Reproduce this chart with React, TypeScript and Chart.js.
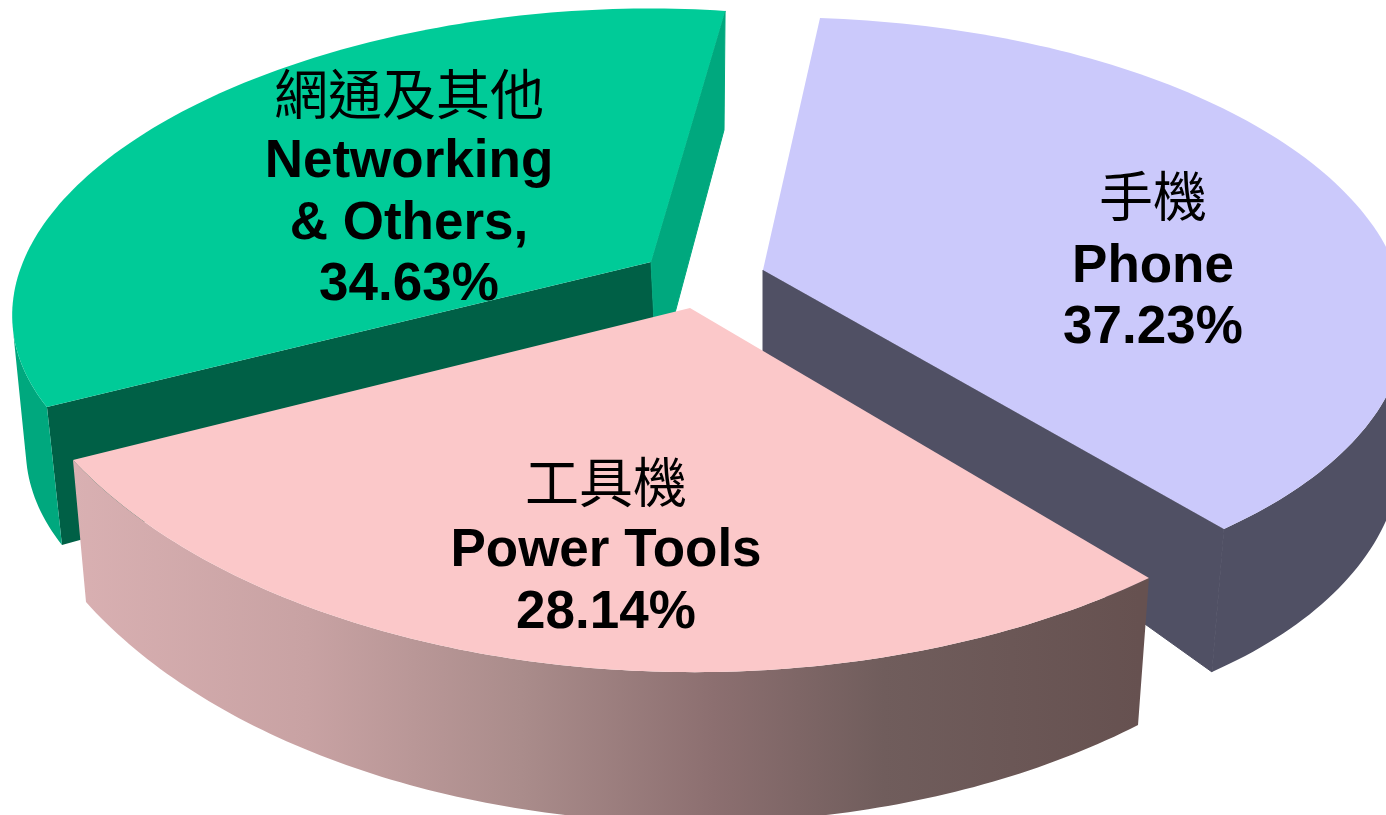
import React, { useEffect, useRef } from "react";
import { Chart, registerables } from "chart.js";

Chart.register(...registerables);

// ---- data ----
const categories = ["Phone", "Power Tools", "Networking & Others"];
const shares = [37.23, 28.14, 34.63];
const labelLines = [
  ["手機", "Phone", "37.23%"],
  ["工具機", "Power Tools", "28.14%"],
  ["網通及其他", "Networking", "& Others,", "34.63%"],
];

// ---- colours ----
const topColors = ["#cbc9fb", "#fbc8c9", "#00cb98"];
const wallColors = ["#505064", "", "#00a87e"];
const startFaceColors = ["", "", "#006046"];
const endFaceColors = ["#505064", "", "#00a87e"];
const powerWallStops: [number, string][] = [
  [0, "#d9b0b2"],
  [0.22, "#c8a2a3"],
  [0.42, "#aa8c8b"],
  [0.6, "#8c6f70"],
  [0.76, "#705d5c"],
  [1, "#665150"],
];

// ---- 3D look: each exploded wedge has its own affine view of the unit pie ----
// [a, b, c, d, e, f] as in canvas transforms, then the wedge's projected hub.
const topViews = [
  [601.4, -15.9, 55.9, 293.2, 802.2, 311],
  [709.5, -6, 4.4, 405.9, 699.3, 266.2],
  [564.9, 3.3, -74.8, 274.2, 582, 282.7],
];
const bottomViews = [
  [607.5, 16.2, 47.4, 330.9, 793, 404.5],
  [692.1, -5.9, 12, 421.3, 693.4, 401.2],
  [558.2, -2, -68.4, 283.5, 588.1, 411.6],
];
const topHubs = [[763, 270], [690, 308], [651, 262]];
const bottomHubs = [[763, 351], [695, 440], [657, 380]];
const drawOrder = [2, 0, 1];
const labelCenters = [1153, 606, 409];
const labelBaselines = [
  [217, 282, 343],
  [503, 566, 628],
  [115, 177, 239, 300],
];
const STEPS = 120;

type Pt = [number, number];

function arcPoints(view: number[], start: number, end: number): Pt[] {
  const [a, b, c, d, e, f] = view;
  const pts: Pt[] = [];
  for (let i = 0; i <= STEPS; i++) {
    const t = start + ((end - start) * i) / STEPS;
    const u = Math.cos(t);
    const v = Math.sin(t);
    pts.push([a * u + c * v + e, b * u + d * v + f]);
  }
  return pts;
}

function tracePoly(ctx: CanvasRenderingContext2D, pts: number[][]) {
  pts.forEach((p, i) => (i ? ctx.lineTo(p[0], p[1]) : ctx.moveTo(p[0], p[1])));
  ctx.closePath();
}

function fillPoly(ctx: CanvasRenderingContext2D, pts: number[][], fill: any, seal = false) {
  if (!fill) return;
  ctx.beginPath();
  tracePoly(ctx, pts);
  ctx.fillStyle = fill;
  ctx.fill();
  if (seal) {
    ctx.strokeStyle = fill;
    ctx.lineWidth = 1;
    ctx.stroke();
  }
}

function signedArea(pts: number[][]) {
  let sum = 0;
  pts.forEach((p, i) => {
    const q = pts[(i + 1) % pts.length];
    sum += p[0] * q[1] - q[0] * p[1];
  });
  return sum / 2;
}

const piePerspective = {
  id: "piePerspective",
  beforeDatasetsDraw(chart: any) {
    const ctx: CanvasRenderingContext2D = chart.ctx;
    const arcs = chart.getDatasetMeta(0).data;
    const wallGradient = ctx.createLinearGradient(73, 0, 1140, 0);
    powerWallStops.forEach(([o, c]) => wallGradient.addColorStop(o, c));
    ctx.save();
    drawOrder.forEach((i) => {
      const { startAngle, endAngle } = arcs[i].getProps(["startAngle", "endAngle"], true);
      const top = arcPoints(topViews[i], startAngle, endAngle);
      const bottom = arcPoints(bottomViews[i], startAngle, endAngle);
      fillPoly(ctx, [topHubs[i], top[0], bottom[0], bottomHubs[i]], startFaceColors[i]);
      fillPoly(ctx, [topHubs[i], top[STEPS], bottom[STEPS], bottomHubs[i]], endFaceColors[i], true);
      // only the wall strips that face the viewer
      ctx.beginPath();
      for (let s = 0; s < STEPS; s++) {
        const quad = [top[s], top[s + 1], bottom[s + 1], bottom[s]];
        if (signedArea(quad) < 0) tracePoly(ctx, quad);
      }
      ctx.fillStyle = (wallColors[i] || wallGradient) as any;
      ctx.fill();
      fillPoly(ctx, [topHubs[i], ...top], arcs[i].options.backgroundColor);
    });
    ctx.restore();
    return false;
  },
  afterDraw(chart: any) {
    const ctx: CanvasRenderingContext2D = chart.ctx;
    ctx.save();
    ctx.fillStyle = "#000000";
    ctx.textAlign = "center";
    ctx.textBaseline = "alphabetic";
    labelLines.forEach((lines, i) => {
      lines.forEach((line, j) => {
        ctx.font =
          j === 0
            ? '400 54px "Noto Sans CJK TC"'
            : 'bold 53px "Liberation Sans"';
        ctx.fillText(line, labelCenters[i], labelBaselines[i][j]);
      });
    });
    ctx.restore();
  },
};

export default function App() {
  const ref = useRef<HTMLCanvasElement>(null);
  useEffect(() => {
    const chart = new Chart(ref.current!, {
      type: "pie",
      data: {
        labels: categories,
        datasets: [{ data: shares, backgroundColor: topColors, borderWidth: 0 }],
      },
      options: {
        animation: false,
        responsive: false,
        devicePixelRatio: 1,
        rotation: 7,
        layout: { padding: 0 },
        plugins: { legend: { display: false }, tooltip: { enabled: false } },
      },
      plugins: [piePerspective],
    } as any);
    return () => chart.destroy();
  }, []);
  return (
    <div style={{ position: "fixed", left: 0, top: 0, width: 1386, height: 815, background: "#ffffff" }}>
      <canvas ref={ref} width={1386} height={815} style={{ display: "block" }} />
    </div>
  );
}
